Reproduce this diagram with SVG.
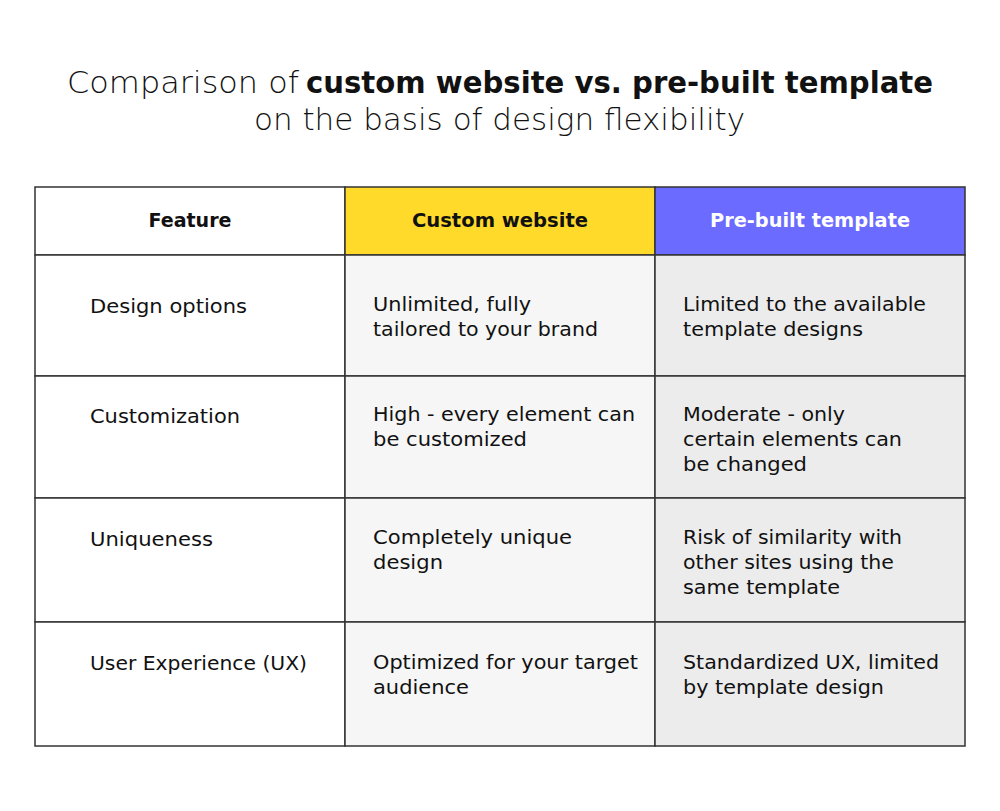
<svg xmlns="http://www.w3.org/2000/svg" width="1000" height="811" viewBox="0 0 1000 811">
<style>
text{font-family:"DejaVu Sans","Noto Sans",sans-serif;fill:#111}
.t{font-size:30px;font-weight:300}
.tb{font-size:30px;font-weight:700}
.h{font-size:19px;font-weight:700;text-anchor:middle}
.b{font-size:19px}
.cell{stroke:#333;stroke-width:1.5}
</style>
<rect width="1000" height="811" fill="#fff"/>
<g id="title">
<text class="t" x="67" y="93" textLength="232" lengthAdjust="spacingAndGlyphs">Comparison of</text>
<text class="tb" x="306" y="93" textLength="627" lengthAdjust="spacingAndGlyphs">custom website vs. pre-built template</text>
<text class="t" x="254" y="130" textLength="491" lengthAdjust="spacingAndGlyphs">on the basis of design flexibility</text>
</g>
<g id="header">
<rect class="cell" x="35" y="187" width="310" height="68" fill="#fff"/>
<rect class="cell" x="345" y="187" width="310" height="68" fill="#FFDA2B"/>
<rect class="cell" x="655" y="187" width="310" height="68" fill="#6B6BFF"/>
<text class="h" x="190" y="227" textLength="83" lengthAdjust="spacingAndGlyphs">Feature</text>
<text class="h" x="500" y="227" textLength="176" lengthAdjust="spacingAndGlyphs">Custom website</text>
<text class="h" x="810" y="227" textLength="200" lengthAdjust="spacingAndGlyphs" style="fill:#fff">Pre-built template</text>
</g>
<g id="row1">
<rect class="cell" x="35" y="255" width="310" height="121" fill="#fff"/>
<rect class="cell" x="345" y="255" width="310" height="121" fill="#F6F6F6"/>
<rect class="cell" x="655" y="255" width="310" height="121" fill="#ECECEC"/>
<text class="b" x="90" y="313" textLength="157" lengthAdjust="spacingAndGlyphs">Design options</text>
<text class="b" x="373" y="311" textLength="158" lengthAdjust="spacingAndGlyphs">Unlimited, fully</text>
<text class="b" x="373" y="336" textLength="225" lengthAdjust="spacingAndGlyphs">tailored to your brand</text>
<text class="b" x="683" y="311" textLength="243" lengthAdjust="spacingAndGlyphs">Limited to the available</text>
<text class="b" x="683" y="336" textLength="180" lengthAdjust="spacingAndGlyphs">template designs</text>
</g>
<g id="row2">
<rect class="cell" x="35" y="376" width="310" height="122" fill="#fff"/>
<rect class="cell" x="345" y="376" width="310" height="122" fill="#F6F6F6"/>
<rect class="cell" x="655" y="376" width="310" height="122" fill="#ECECEC"/>
<text class="b" x="90" y="423" textLength="150" lengthAdjust="spacingAndGlyphs">Customization</text>
<text class="b" x="373" y="421" textLength="262" lengthAdjust="spacingAndGlyphs">High - every element can</text>
<text class="b" x="373" y="446" textLength="154" lengthAdjust="spacingAndGlyphs">be customized</text>
<text class="b" x="683" y="421" textLength="162" lengthAdjust="spacingAndGlyphs">Moderate - only</text>
<text class="b" x="683" y="446" textLength="219" lengthAdjust="spacingAndGlyphs">certain elements can</text>
<text class="b" x="683" y="471" textLength="124" lengthAdjust="spacingAndGlyphs">be changed</text>
</g>
<g id="row3">
<rect class="cell" x="35" y="498" width="310" height="124" fill="#fff"/>
<rect class="cell" x="345" y="498" width="310" height="124" fill="#F6F6F6"/>
<rect class="cell" x="655" y="498" width="310" height="124" fill="#ECECEC"/>
<text class="b" x="90" y="546" textLength="123" lengthAdjust="spacingAndGlyphs">Uniqueness</text>
<text class="b" x="373" y="544" textLength="199" lengthAdjust="spacingAndGlyphs">Completely unique</text>
<text class="b" x="373" y="569" textLength="70" lengthAdjust="spacingAndGlyphs">design</text>
<text class="b" x="683" y="544" textLength="219" lengthAdjust="spacingAndGlyphs">Risk of similarity with</text>
<text class="b" x="683" y="569" textLength="211" lengthAdjust="spacingAndGlyphs">other sites using the</text>
<text class="b" x="683" y="594" textLength="157" lengthAdjust="spacingAndGlyphs">same template</text>
</g>
<g id="row4">
<rect class="cell" x="35" y="622" width="310" height="124" fill="#fff"/>
<rect class="cell" x="345" y="622" width="310" height="124" fill="#F6F6F6"/>
<rect class="cell" x="655" y="622" width="310" height="124" fill="#ECECEC"/>
<text class="b" x="90" y="670" textLength="217" lengthAdjust="spacingAndGlyphs">User Experience (UX)</text>
<text class="b" x="373" y="669" textLength="265" lengthAdjust="spacingAndGlyphs">Optimized for your target</text>
<text class="b" x="373" y="694" textLength="96" lengthAdjust="spacingAndGlyphs">audience</text>
<text class="b" x="683" y="669" textLength="256" lengthAdjust="spacingAndGlyphs">Standardized UX, limited</text>
<text class="b" x="683" y="694" textLength="201" lengthAdjust="spacingAndGlyphs">by template design</text>
</g>
</svg>
